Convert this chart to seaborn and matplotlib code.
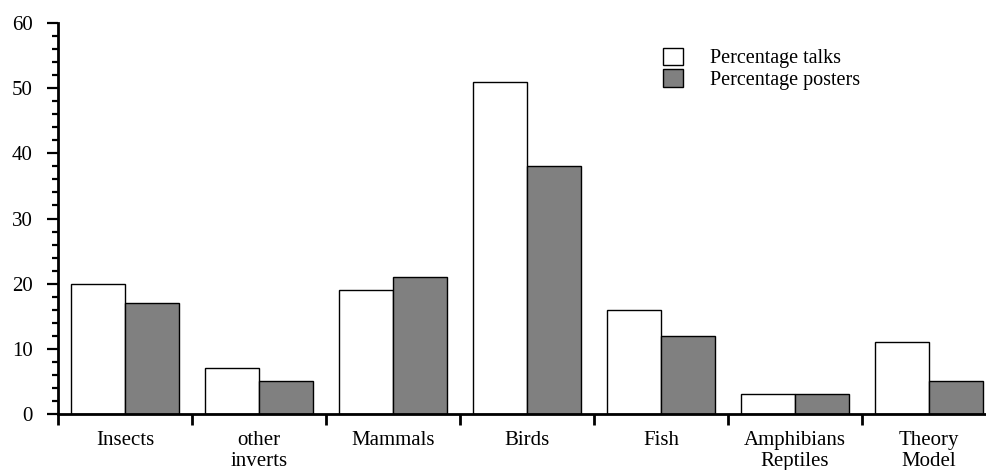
import matplotlib
matplotlib.use("Agg")
import matplotlib.pyplot as plt
import seaborn as sns
import pandas as pd
from matplotlib.ticker import MultipleLocator, FixedLocator

categories = ["Insects", "other\ninverts", "Mammals", "Birds", "Fish",
              "Amphibians\nReptiles", "Theory\nModel"]
talks = [20, 7, 19, 51, 16, 3, 11]
posters = [17, 5, 21, 38, 12, 3, 5]
series = ["Percentage talks", "Percentage posters"]

df = pd.DataFrame({
    "group": categories * 2,
    "value": talks + posters,
    "kind": [series[0]] * len(talks) + [series[1]] * len(posters),
})

sns.set_style("ticks", {"axes.edgecolor": "black", "xtick.color": "black",
                        "ytick.color": "black", "text.color": "black"})
plt.rcParams["font.family"] = ["Liberation Serif", "DejaVu Serif"]

fig = plt.figure(figsize=(9.87, 4.70), dpi=100)
ax = fig.add_axes([58 / 987, 56 / 470, 938 / 987, 391 / 470])

sns.barplot(data=df, x="group", y="value", hue="kind",
            palette={series[0]: "white", series[1]: "#808080"},
            edgecolor="black", linewidth=1.0, width=0.8, ax=ax,
            saturation=1)

ax.set_xlim(-0.5, 6.5)
ax.set_ylim(0, 60)
ax.set_xlabel("")
ax.set_ylabel("")

for side in ["top", "right"]:
    ax.spines[side].set_visible(False)
for side in ["left", "bottom"]:
    ax.spines[side].set_linewidth(2)

ax.yaxis.set_major_locator(MultipleLocator(10))
ax.yaxis.set_minor_locator(MultipleLocator(2))
ax.tick_params(axis="y", which="major", length=8, width=1.6, labelsize=15,
               pad=10, labelcolor="black")
ax.tick_params(axis="y", which="minor", length=4.5, width=1.6)

ax.xaxis.set_minor_locator(FixedLocator([i - 0.5 for i in range(len(categories) + 1)]))
ax.tick_params(axis="x", which="major", length=0, labelsize=15, pad=12.5,
               labelcolor="black")
ax.tick_params(axis="x", which="minor", length=8, width=2, direction="out")
for lab in ax.get_xticklabels():
    lab.set_linespacing(1.12)

leg = ax.legend(loc="upper left", bbox_to_anchor=(0.645, 0.937), frameon=False,
                fontsize=14.5, handlelength=0.98, handleheight=0.95,
                handletextpad=1.35, labelspacing=0.05, borderpad=0,
                borderaxespad=0)
for t in leg.get_texts():
    t.set_color("black")

fig.savefig("out.png", dpi=100)
